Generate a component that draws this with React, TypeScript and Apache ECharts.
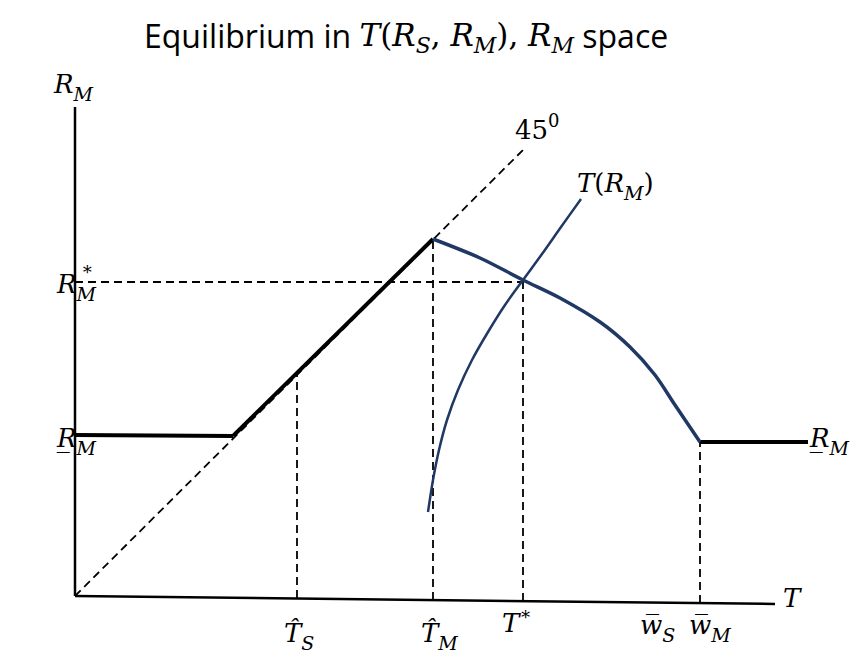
import React, { useEffect, useRef } from "react";
import * as echarts from "echarts";

// Diagram coordinates: origin at the corner of the axes, y upward.
const xAxisLine = [[0, 0], [700, -8]];
const yAxisLine = [[0, 0], [0, 489]];
const floorLeft = [[0, 161], [158, 160]];
const ramp45 = [[158, 160], [358, 357]];
const mCurve = [[358, 357], [405, 338], [448, 316], [485, 298], [525, 274], [555, 249], [580, 221], [600, 191], [625, 154]];
const floorRight = [[625, 154], [733, 154]];
const tCurve = [[353, 84], [358, 116], [364, 146], [372, 176], [383, 206], [397, 236], [413, 264], [430, 291], [448, 316], [467, 342], [486, 369], [506, 397]];
const diag45 = [[0, 0], [449, 447]];
const guideRstar = [[0, 314], [448, 314]];
const guideTs = [[222, -2], [222, 223]];
const guideTm = [[358, -4], [358, 357]];
const guideTstar = [[448, -5], [448, 314]];
const guideWm = [[625, -7], [625, 154]];

const NAVY = "#1F3864";
const MATH = "'DejaVu Serif', serif";

const base = { fontWeight: "normal", color: "#000" };
const rich: any = {
  i: { ...base, fontFamily: MATH, fontStyle: "italic", fontSize: 26, lineHeight: 38 },
  u: { ...base, fontFamily: MATH, fontStyle: "normal", fontSize: 26, lineHeight: 38 },
  s: { ...base, fontFamily: MATH, fontStyle: "italic", fontSize: 19, verticalAlign: "bottom" },
  p: { ...base, fontFamily: MATH, fontStyle: "normal", fontSize: 18, verticalAlign: "top" },
  a: { ...base, fontFamily: "'Open Sans', sans-serif", fontSize: 32, lineHeight: 42 },
  ti: { ...base, fontFamily: MATH, fontStyle: "italic", fontSize: 31, lineHeight: 42 },
  tu: { ...base, fontFamily: MATH, fontStyle: "normal", fontSize: 31, lineHeight: 42 },
  ts: { ...base, fontFamily: MATH, fontStyle: "italic", fontSize: 22, verticalAlign: "bottom" },
};

function label(text: string, left: number, top: number) {
  return {
    text,
    left,
    top,
    padding: 0,
    itemGap: 0,
    textStyle: { rich, fontSize: 25, lineHeight: 38, fontWeight: "normal" },
  };
}

function line(data: number[][], color: string, width: number, dashed = false, smooth = false) {
  return {
    type: "line",
    data,
    showSymbol: false,
    symbol: "none",
    smooth: smooth ? 0.3 : false,
    silent: true,
    lineStyle: { color, width, type: dashed ? [8, 5] : "solid", cap: "butt" },
    z: dashed ? 1 : 3,
  };
}

export default function App() {
  const ref = useRef<HTMLDivElement>(null);
  useEffect(() => {
    const chart = echarts.init(ref.current!, null, { renderer: "svg" });
    chart.setOption({
      animation: false,
      backgroundColor: "#fff",
      title: [
        label("{a|Equilibrium in }{ti|T}{tu|(}{ti|R}{ts|S}{tu|, }{ti|R}{ts|M}{tu|), }{ti|R}{ts|M}{a| space}", 144, 14),
        label("{i|R}{s|M}", 54, 65),
        label("{i|R}{s|M}", 57, 265),
        label("{i|R\u0332}{s|M}", 57, 419),
        label("{i|R\u0332}{s|M}", 810, 419),
        label("{u|45}{p|0}", 515, 111),
        label("{i|T}{u|(}{i|R}{s|M}{u|)}", 577, 164),
        label("{i|T\u0302}{s|S}", 284, 614),
        label("{i|T\u0302}{s|M}", 421, 614),
        label("{i|T}{p|\u2217}", 502, 604),
        label("{i|w\u0305}{s|S}", 640, 606),
        label("{i|w\u0305}{s|M}", 689, 606),
        label("{i|T}", 783, 579),
        { text: "{p|\u2217}", left: 81, top: 259, padding: 0, textStyle: { rich } },
      ],
      grid: { left: 0, right: 0, top: 0, bottom: 0 },
      xAxis: { type: "value", min: -75, max: 789, show: false },
      yAxis: { type: "value", min: -56, max: 596, show: false },
      series: [
        line(diag45, "#000", 1.8, true),
        line(guideRstar, "#000", 1.8, true),
        line(guideTs, "#000", 1.8, true),
        line(guideTm, "#000", 1.8, true),
        line(guideTstar, "#000", 1.8, true),
        line(guideWm, "#000", 1.8, true),
        line(xAxisLine, "#000", 2.5),
        line(yAxisLine, "#000", 2.5),
        line(floorLeft, "#000", 4),
        line(ramp45, "#000", 4),
        line(floorRight, "#000", 4),
        line(mCurve, NAVY, 3.5, false, true),
        line(tCurve, NAVY, 2.5, false, true),
      ],
    });
    return () => chart.dispose();
  }, []);
  return <div ref={ref} style={{ position: "absolute", left: 0, top: 0, width: 864, height: 652 }} />;
}
